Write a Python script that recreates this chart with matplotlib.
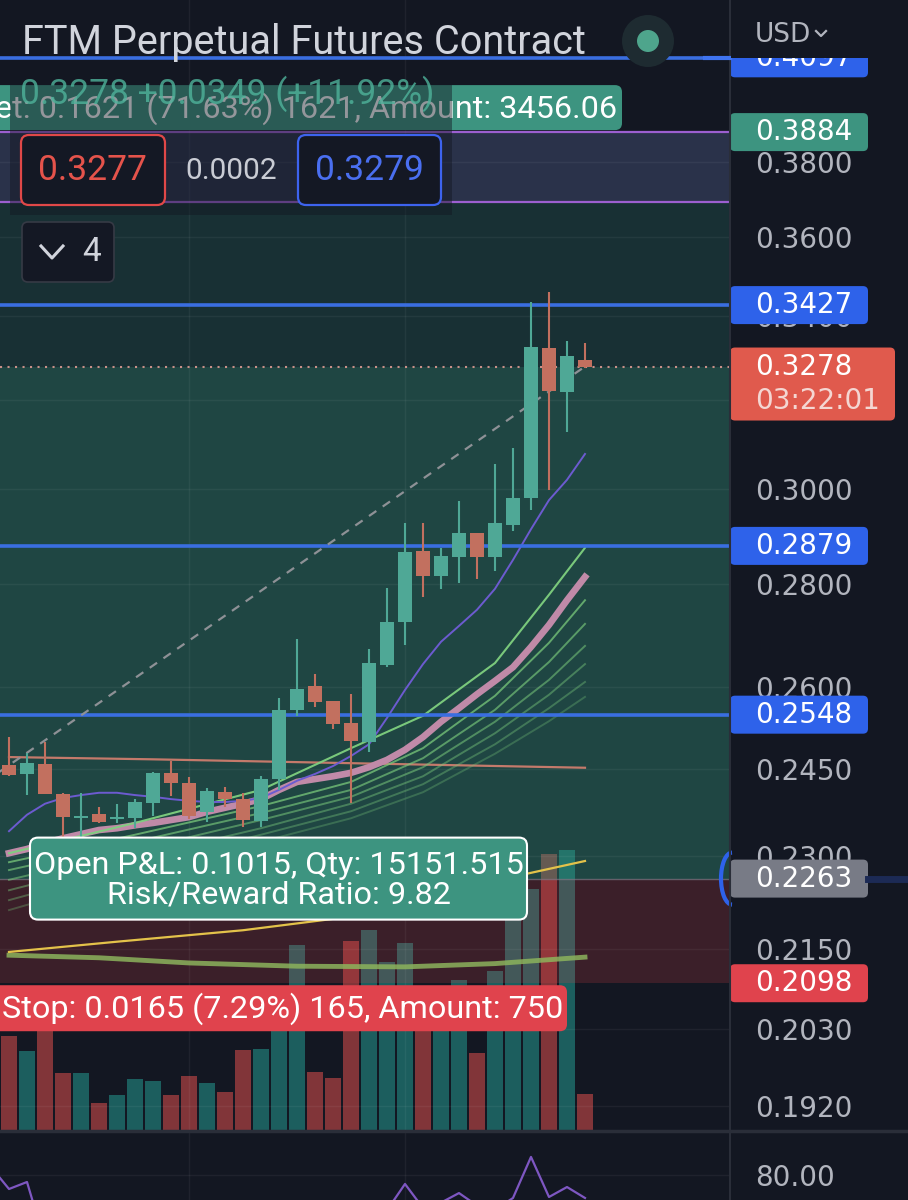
import numpy as np
import matplotlib.pyplot as plt
from matplotlib.patches import FancyBboxPatch, Rectangle, Circle, Arc
from matplotlib.ticker import FixedLocator, NullLocator, StrMethodFormatter

# ---- данные: свечи (индекс = номер бара) ----
opens = [0.2457, 0.2441, 0.2459, 0.2406, 0.2364, 0.2371, 0.2363, 0.2364, 0.2390, 0.2443,
         0.2425, 0.2375, 0.2409, 0.2397, 0.2359, 0.2432, 0.2557, 0.2601, 0.2573, 0.2533,
         0.2498, 0.2641, 0.2725, 0.2868, 0.2817, 0.2856, 0.2906, 0.2856, 0.2923, 0.2981,
         0.3322, 0.3218, 0.3293]
highs = [0.2507, 0.2478, 0.2498, 0.2408, 0.2408, 0.2383, 0.2389, 0.2397, 0.2445, 0.2464,
         0.2436, 0.2416, 0.2418, 0.2408, 0.2437, 0.2579, 0.2691, 0.2624, 0.2573, 0.2586,
         0.2672, 0.2793, 0.2927, 0.2927, 0.2875, 0.2974, 0.2906, 0.3055, 0.3090, 0.3435,
         0.3460, 0.3339, 0.3334]
lows = [0.2437, 0.2404, 0.2406, 0.2332, 0.2332, 0.2356, 0.2356, 0.2347, 0.2368, 0.2402,
        0.2362, 0.2358, 0.2383, 0.2349, 0.2349, 0.2413, 0.2546, 0.2562, 0.2522, 0.2390,
        0.2480, 0.2637, 0.2680, 0.2774, 0.2791, 0.2803, 0.2811, 0.2827, 0.2910, 0.2955,
        0.2998, 0.3126, 0.3275]
closes = [0.2439, 0.2460, 0.2406, 0.2366, 0.2368, 0.2358, 0.2366, 0.2392, 0.2443, 0.2425,
          0.2368, 0.2411, 0.2397, 0.2361, 0.2432, 0.2557, 0.2596, 0.2572, 0.2531, 0.2500,
          0.2645, 0.2725, 0.2866, 0.2817, 0.2858, 0.2906, 0.2856, 0.2927, 0.2981, 0.3325,
          0.3220, 0.3303, 0.3278]
volumes = [9.4, 7.9, 11.8, 5.7, 5.7, 2.7, 3.5, 5.1, 4.9, 3.5, 5.4, 4.7, 3.8, 8.0, 8.1, 11.3,
           18.5, 5.8, 5.2, 18.9, 20.0, 16.8, 18.7, 12.8, 10.8, 15.0, 7.7, 15.9, 23.8, 24.1,
           27.6, 28.0, 3.6]

# ---- скользящие средние ----
purple_ma = [0.2342, 0.2370, 0.2389, 0.2399, 0.2404, 0.2408, 0.2408, 0.2404, 0.2401, 0.2397,
             0.2394, 0.2392, 0.2392, 0.2394, 0.2399, 0.2413, 0.2429, 0.2441, 0.2455, 0.2473,
             0.2494, 0.2542, 0.2594, 0.2643, 0.2686, 0.2717, 0.2749, 0.2791, 0.2850, 0.2914,
             0.2976, 0.3020, 0.3077]
pink_ma = [0.2305, 0.2312, 0.2322, 0.2330, 0.2337, 0.2344, 0.2347, 0.2352, 0.2356, 0.2361,
           0.2366, 0.2375, 0.2382, 0.2389, 0.2397, 0.2413, 0.2427, 0.2432, 0.2437, 0.2443,
           0.2453, 0.2466, 0.2484, 0.2507, 0.2535, 0.2560, 0.2586, 0.2611, 0.2637, 0.2676,
           0.2719, 0.2768, 0.2815]
ribbon_idx = [0, 7, 14, 19, 23, 27, 30, 32]
ribbon_top = [0.2305, 0.2356, 0.2413, 0.2487, 0.2546, 0.2645, 0.2779, 0.2875]
ribbon_1 = [0.2290, 0.2336, 0.2385, 0.2427, 0.2487, 0.2583, 0.2684, 0.2768]
ribbon_2 = [0.2277, 0.2324, 0.2373, 0.2413, 0.2469, 0.2557, 0.2647, 0.2721]
ribbon_3 = [0.2261, 0.2310, 0.2361, 0.2401, 0.2453, 0.2535, 0.2613, 0.2678]
ribbon_4 = [0.2244, 0.2297, 0.2347, 0.2389, 0.2437, 0.2514, 0.2585, 0.2643]
ribbon_5 = [0.2228, 0.2284, 0.2336, 0.2376, 0.2423, 0.2494, 0.2560, 0.2609]
ribbon_6 = [0.2212, 0.2271, 0.2324, 0.2364, 0.2409, 0.2477, 0.2536, 0.2581]
salmon_idx = [0, 8, 16, 24, 32]
salmon_ma = [0.2471, 0.2467, 0.2462, 0.2457, 0.2452]
yellow_idx = [0, 6, 13, 18, 28, 32]
yellow_ma = [0.2146, 0.2162, 0.2180, 0.2198, 0.2266, 0.2292]
olive_idx = [0, 5, 10, 16, 22, 27, 32]
olive_ma = [0.2141, 0.2137, 0.2129, 0.2124, 0.2123, 0.2128, 0.2138]

# ---- нижний индикатор ----
rsi_idx = list(range(-1, 33))
rsi = [86.5, 68.6, 74.3, 25, 30, 34, 31, 36, 42, 48, 45, 38, 43, 41, 35, 44, 52, 55, 50, 44,
       40, 50, 51.3, 72.7, 53.1, 57.5, 65.3, 55.1, 51.5, 61.3, 94.7, 62.1, 70.2, 61.3]

# ---- уровни ----
blue_levels = [0.4097, 0.3427, 0.2879, 0.2548]
entry, target, stop, last = 0.2263, 0.3884, 0.2098, 0.3278
box_low = 0.3692
dash_start = -9.1
grid_bars = [10, 22]
yticks = [0.1920, 0.2030, 0.2150, 0.2300, 0.2450, 0.2600, 0.2800, 0.3000,
          0.3200, 0.3400, 0.3600, 0.3800]

BG = '#131722'
GREEN_C, RED_C = '#4fa896', '#c2705f'
ROBOTO = ['Roboto', 'DejaVu Sans']
LBL = 23.3  # размер шрифта ярлыков позиции

W, H = 908, 1200
fig = plt.figure(figsize=(W / 100, H / 100), dpi=100, facecolor=BG)
rect = [0, 70 / H, 730 / W, 1130 / H]

ax_vol = fig.add_axes(rect, zorder=1)
ax = fig.add_axes(rect, zorder=2, sharex=ax_vol)
ax_rsi = fig.add_axes([0, 0, 730 / W, 68 / H], zorder=1)
for a in (ax_vol, ax, ax_rsi):
    a.patch.set_visible(False)
    for s in a.spines.values():
        s.set_visible(False)

x = np.arange(len(opens))
o, h, l, c = map(np.array, (opens, highs, lows, closes))
up = c >= o

# объём
ax_vol.bar(x, volumes, width=0.84, color=np.where(up, '#26a69a', '#ef5350'), alpha=0.5, linewidth=0)
ax_vol.set_ylim(0, 113)
ax_vol.set_yticks([])
ax_vol.tick_params(bottom=False, labelbottom=False, left=False)

# основная панель
ax.set_yscale('log')
ax.set_xlim(-0.5, 40.056)
ax.set_ylim(0.18866, 0.42736)
ax.tick_params(axis='x', bottom=False, labelbottom=False)
ax.yaxis.tick_right()
ax.yaxis.set_major_locator(FixedLocator(yticks))
ax.yaxis.set_minor_locator(NullLocator())
ax.yaxis.set_major_formatter(StrMethodFormatter('{x:.4f}'))
ax.tick_params(axis='y', which='both', length=0, pad=18, labelsize=20, labelcolor='#b2b5be')
ax.grid(axis='y', color='white', alpha=0.05, lw=1)
for g in grid_bars:
    ax.axvline(g, color='white', alpha=0.05, lw=1)
    ax_rsi.axvline(g, color='white', alpha=0.05, lw=1)

# зоны позиции
ax.axhspan(entry, target, color='#2e8c78', alpha=0.22, lw=0, zorder=0.5)
ax.axhspan(entry, last, color='#3fae8a', alpha=0.18, lw=0, zorder=0.6)
ax.axhspan(stop, entry, color='#e04446', alpha=0.2, lw=0, zorder=0.5)
ax.axhspan(box_low, target, color='#6e3c9a', alpha=0.22, lw=0, zorder=0.7)
ax.axhline(target, color='#9c5fd0', lw=1.6, zorder=0.8)
ax.axhline(box_low, color='#9c5fd0', lw=1.6, zorder=0.8)
ax.axhline(entry, color='#787b86', lw=1, alpha=0.7, zorder=0.8)

# скользящие
ax.plot(salmon_idx, salmon_ma, color='#c47a6b', lw=1.6, zorder=2)
ax.plot(olive_idx, olive_ma, color='#8cb35c', lw=3.5, alpha=0.85, zorder=2)
ax.plot(yellow_idx, yellow_ma, color='#e3c24a', lw=1.6, zorder=2)
for ser, al in zip([ribbon_6, ribbon_5, ribbon_4, ribbon_3, ribbon_2, ribbon_1],
                   [0.3, 0.38, 0.45, 0.55, 0.65, 0.75]):
    ax.plot(ribbon_idx, ser, color='#79c97b', lw=1.4, alpha=al, zorder=2)
ax.plot(x, pink_ma, color='#c08aa8', lw=4.8, zorder=2.1)
ax.plot(ribbon_idx, ribbon_top, color='#7fd07f', lw=1.5, alpha=0.95, zorder=2.2)
ax.plot(x, purple_ma, color='#6c5bd0', lw=1.4, zorder=2.3)

# горизонтальные уровни
for lv in blue_levels:
    ax.axhline(lv, color='#3a6ee0', lw=2.6, zorder=2.4)
ax.axhline(last, color='#c99089', lw=1.5, ls=(0, (1, 2.6)), zorder=2.4)
ax.plot([dash_start, x[-1]], [entry, last], color='#8e9196', lw=1.6, ls=(0, (4, 3.5)), zorder=2.5)

# свечи
col = np.where(up, GREEN_C, RED_C)
ax.vlines(x, l, h, colors=col, lw=1.5, zorder=3)
ax.bar(x, np.abs(c - o), bottom=np.minimum(o, c), width=0.78, color=col, linewidth=0, zorder=3.1)

# индикатор
ax_rsi.set_xlim(-0.5, 40.056)
ax_rsi.set_ylim(59.65, 115)
ax_rsi.plot(rsi_idx, rsi, color='#7e57c2', lw=1.6)
ax_rsi.tick_params(axis='x', bottom=False, labelbottom=False)
ax_rsi.yaxis.tick_right()
ax_rsi.set_yticks([80])
ax_rsi.yaxis.set_major_formatter(StrMethodFormatter('{x:.2f}'))
ax_rsi.tick_params(axis='y', length=0, pad=18, labelsize=20, labelcolor='#b2b5be')
ax_rsi.grid(axis='y', color='white', alpha=0.05, lw=1)

# ---- интерфейс поверх (в пикселях) ----
ov = fig.add_axes([0, 0, 1, 1], zorder=5)
ov.set_xlim(0, W)
ov.set_ylim(H, 0)
ov.axis('off')


def py(p):
    return H - ax.transData.transform((0, p))[1]


def rbox(x0, y0, w, hgt, fc, ec='none', lw=0, r=6, **kw):
    ov.add_patch(FancyBboxPatch((x0, y0), w, hgt, boxstyle=f'round,pad=0,rounding_size={r}',
                                fc=fc, ec=ec, lw=lw, **kw))


# разделители
ov.plot([730, 730], [0, H], color='#2a2e39', lw=1.5)
ov.plot([0, W], [1131, 1131], color='#2a2e39', lw=2.5)

# лейблы на шкале
def axis_label(p, txt, fc, txt2=None):
    y = py(p)
    hh = 38 if txt2 is None else 73
    ww = 138 if txt2 is None else 165
    rbox(730, y - 19, ww, hh, fc, r=5)
    ov.text(755, y, txt, color='white', fontsize=20, va='center', ha='left')
    if txt2:
        ov.text(755, y + 34, txt2, color='#f4d6d2', fontsize=20, va='center', ha='left')


for lv in blue_levels:
    axis_label(lv, f'{lv:.4f}', '#2e62ea')
axis_label(target, f'{target:.4f}', '#3d9480')
axis_label(last, f'{last:.4f}', '#e05a4d', '03:22:01')
axis_label(entry, f'{entry:.4f}', '#787b86')
axis_label(stop, f'{stop:.4f}', '#e0434d')

ye = py(entry)
ov.add_patch(Arc((732, ye), 22, 52, theta1=90, theta2=270, color='#2e62ea', lw=3))
ov.plot([868, W], [ye, ye], color='#1c2a55', lw=5)

# шапка шкалы (перекрывает верх метки 0.4097)
ov.add_patch(Rectangle((731, 0), W - 731, 58, fc=BG, ec='none', zorder=3.5))
ov.text(755, 35, 'USD', color='#b2b5be', fontsize=19, va='center', ha='left', zorder=4)
ov.plot([816, 821, 826], [31, 36, 31], color='#b2b5be', lw=1.6, zorder=4)
yb = py(blue_levels[0])
ov.plot([705, 730], [yb, yb], color='#3f74f0', lw=3)

# заголовок
ov.text(22, 42, 'FTM Perpetual Futures Contract', color='#d1d4dc', fontsize=28.5,
        va='center', ha='left', family=ROBOTO)
ov.add_patch(Circle((648, 41), 26, fc='#1e2b31', ec='none'))
ov.add_patch(Circle((648, 41), 11, fc='#4ea58c', ec='none'))

# цель
yt = py(target)
rbox(-10, yt - 47, 632, 45, '#3d9480', r=7)
ov.text(617, yt - 23, 'Target: 0.1621 (71.63%) 1621, Amount: 3456.06', color='white',
        fontsize=LBL, va='center', ha='right', family=ROBOTO)

# легенда с затемнением
ov.add_patch(Rectangle((10, 85), 442, 130, fc=BG, alpha=0.45, ec='none', zorder=3.2))
ov.text(20, 94, '0.3278 +0.0349 (+11.92%)', color='#4fb39b', alpha=0.8, fontsize=25.5,
        va='center', ha='left', family=ROBOTO, zorder=3.3)
rbox(21, 135, 144, 70, '#141824', ec='#e04848', lw=1.6, r=8, zorder=3.3)
ov.text(92, 171, '0.3277', color='#e5534b', fontsize=25.5, va='center', ha='center',
        family=ROBOTO, zorder=3.4)
ov.text(231, 171, '0.0002', color='#c9ccd4', fontsize=21.5, va='center', ha='center',
        family=ROBOTO, zorder=3.4)
rbox(298, 135, 143, 70, '#141824', ec='#3d63ee', lw=1.6, r=8, zorder=3.3)
ov.text(369, 171, '0.3279', color='#4a6ff0', fontsize=25.5, va='center', ha='center',
        family=ROBOTO, zorder=3.4)
rbox(22, 222, 92, 60, '#141824', ec='#363a45', lw=1.2, r=6)
ov.plot([41, 52, 63], [246, 258, 246], color='#d1d4dc', lw=2.2)
ov.text(92, 252, '4', color='#d1d4dc', fontsize=24, va='center', ha='center', family=ROBOTO)

# прибыль/убыток
rbox(30, ye - 41, 497, 82, '#3d9480', ec='white', lw=1.5, r=8)
ov.text(279, ye - 13, 'Open P&L: 0.1015, Qty: 15151.515', color='white', fontsize=LBL,
        va='center', ha='center', family=ROBOTO)
ov.text(279, ye + 16, 'Risk/Reward Ratio: 9.82', color='white', fontsize=LBL,
        va='center', ha='center', family=ROBOTO)

# стоп
ys = py(stop)
rbox(-10, ys + 2, 577, 46, '#e0434d', r=7)
ov.text(2, ys + 25, 'Stop: 0.0165 (7.29%) 165, Amount: 750', color='white', fontsize=LBL,
        va='center', ha='left', family=ROBOTO)

fig.savefig('out.png', dpi=100, facecolor=BG)
